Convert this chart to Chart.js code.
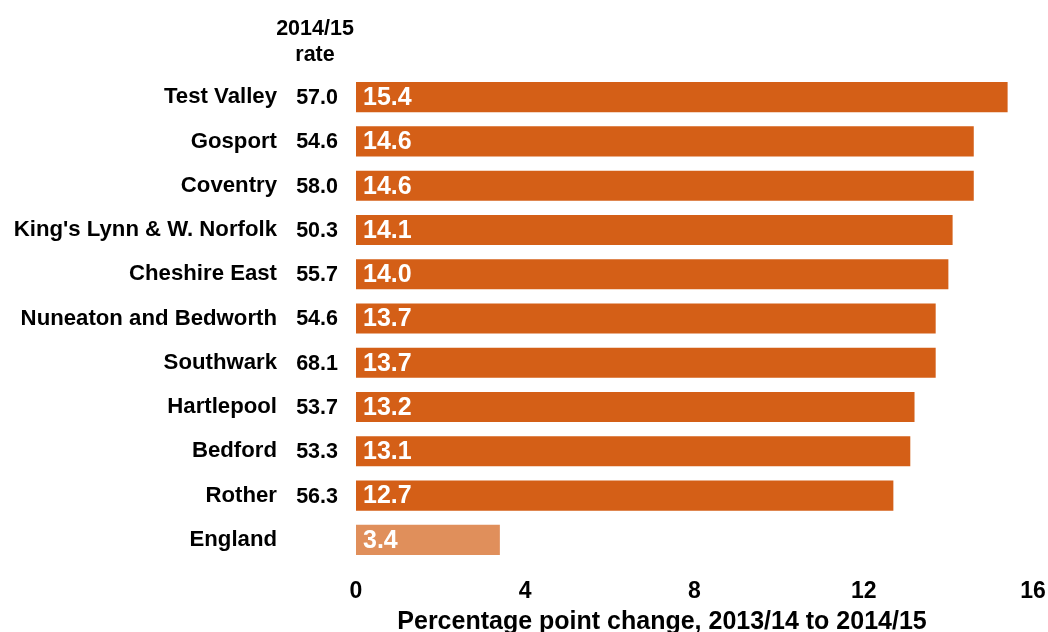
<!DOCTYPE html>
<html>
<head>
<meta charset="utf-8">
<script src="https://cdn.jsdelivr.net/npm/chart.js@4"></script>
<style>
  html, body { margin: 0; padding: 0; background: #fff; }
  #wrap { width: 1048px; height: 632px; }
</style>
</head>
<body>
<div id="wrap"><canvas id="chart" width="1048" height="632"></canvas></div>
<script>
const categories = ['Test Valley', 'Gosport', 'Coventry', "King's Lynn & W. Norfolk", 'Cheshire East',
    'Nuneaton and Bedworth', 'Southwark', 'Hartlepool', 'Bedford', 'Rother', 'England'];
const rates = [57.0, 54.6, 58.0, 50.3, 55.7, 54.6, 68.1, 53.7, 53.3, 56.3, null];
const changes = [15.4, 14.6, 14.6, 14.1, 14.0, 13.7, 13.7, 13.2, 13.1, 12.7, 3.4];
const xTicks = [0, 4, 8, 12, 16];
const xTitle = 'Percentage point change, 2013/14 to 2014/15';

const FONT = '"Liberation Sans", Arial, sans-serif';
const DARK = '#d45f17';
const LIGHT = '#e08f5b';

// rate column with its header, plus the x axis caption
const sideText = {
    id: 'sideText',
    afterDraw(chart) {
        const ctx = chart.ctx;
        const yScale = chart.scales.y;
        const x = chart.chartArea.left - 18;
        ctx.save();
        ctx.fillStyle = '#000';
        ctx.font = 'bold 21.5px ' + FONT;
        ctx.textAlign = 'center';
        ctx.textBaseline = 'middle';
        ctx.fillText('2014/15', x - 23, 29);
        ctx.fillText('rate', x - 23, 55);
        ctx.textAlign = 'right';
        rates.forEach((r, i) => {
            if (r === null) return;
            ctx.fillText(r.toFixed(1), x, yScale.getPixelForValue(i) + 1);
        });
        ctx.font = 'bold 25px ' + FONT;
        ctx.textAlign = 'center';
        ctx.fillText(xTitle, 662, 622);
        ctx.restore();
    }
};

// white value labels inside the start of each bar
const barValues = {
    id: 'barValues',
    afterDatasetsDraw(chart) {
        const ctx = chart.ctx;
        const meta = chart.getDatasetMeta(0);
        ctx.save();
        ctx.fillStyle = '#fff';
        ctx.font = 'bold 25px ' + FONT;
        ctx.textAlign = 'left';
        ctx.textBaseline = 'middle';
        meta.data.forEach((bar, i) => {
            ctx.fillText(changes[i].toFixed(1), bar.base + 7, bar.y + 1);
        });
        ctx.restore();
    }
};

new Chart(document.getElementById('chart'), {
    type: 'bar',
    data: {
        labels: categories,
        datasets: [{
            data: changes,
            backgroundColor: categories.map(c => c === 'England' ? LIGHT : DARK),
            borderWidth: 0,
            barPercentage: 0.68,
            categoryPercentage: 1
        }]
    },
    options: {
        indexAxis: 'y',
        responsive: false,
        animation: false,
        layout: { padding: { top: 75, right: 15, left: 0, bottom: 0 } },
        plugins: {
            legend: { display: false },
            tooltip: { enabled: false }
        },
        scales: {
            x: {
                min: 0,
                max: 16,
                afterBuildTicks: scale => {
                    scale.ticks = xTicks.map(v => ({ value: v }));
                },
                afterFit: scale => {
                    scale.height = 70;
                    scale.paddingLeft = 0;
                    scale.paddingRight = 0;
                },
                grid: { display: false, drawTicks: false },
                border: { display: false },
                ticks: {
                    color: '#000',
                    padding: 16,
                    font: { family: FONT, size: 23, weight: 'bold' }
                }
            },
            y: {
                afterFit: scale => {
                    scale.width = 356;
                    scale.paddingTop = 0;
                    scale.paddingBottom = 0;
                },
                grid: { display: false, drawTicks: false },
                border: { display: false },
                ticks: {
                    color: '#000',
                    padding: 79,
                    font: { family: FONT, size: 22.2, weight: 'bold' }
                }
            }
        }
    },
    plugins: [sideText, barValues]
});
</script>
</body>
</html>
